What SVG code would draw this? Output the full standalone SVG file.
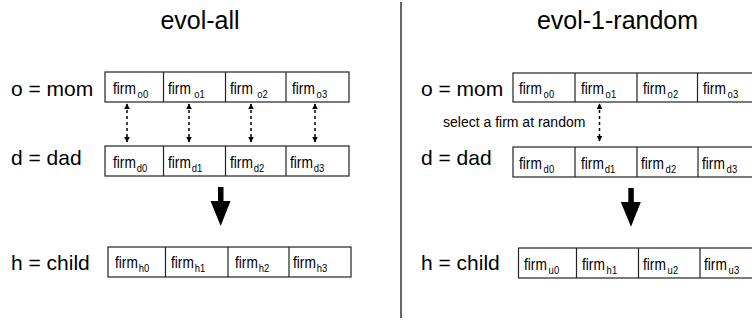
<svg xmlns="http://www.w3.org/2000/svg" width="752" height="320" viewBox="0 0 752 320">
<defs>
<style>
text{font-family:"Liberation Sans",Arial,sans-serif;fill:#000}
.title{font-size:25px;text-anchor:middle}
.lbl{font-size:21px}
.cell{font-size:16px}
.sub{font-size:11px}
.note{font-size:14px}
.box{fill:#fff;stroke:#222;stroke-width:1.2}
.div{stroke:#222;stroke-width:1.2}
.dash{stroke:#000;stroke-width:1.5;stroke-dasharray:3,3;fill:none;marker-start:url(#ah);marker-end:url(#ah)}
</style>
<marker id="ah" viewBox="0 0 10 10" refX="9" refY="5" markerWidth="6" markerHeight="6" markerUnits="userSpaceOnUse" orient="auto-start-reverse">
<path d="M0,0 L10,5 L0,10 z" fill="#000"/>
</marker>
</defs>

<line x1="401" y1="2" x2="401" y2="318" stroke="#333" stroke-width="1.5"/>

<text class="title" x="200" y="29">evol-all</text>
<text class="title" x="617.5" y="29">evol-1-random</text>

<g id="left-labels">
<text class="lbl" x="11" y="96">o = mom</text>
<text class="lbl" x="11" y="165">d = dad</text>
<text class="lbl" x="11" y="270">h = child</text>
</g>
<g id="right-labels">
<text class="lbl" x="421" y="96">o = mom</text>
<text class="lbl" x="421" y="165">d = dad</text>
<text class="lbl" x="421" y="270">h = child</text>
</g>

<g id="left-mom">
<rect class="box" x="105" y="72" width="244" height="30"/>
<line class="div" x1="163.5" y1="72" x2="163.5" y2="102"/>
<line class="div" x1="225.5" y1="72" x2="225.5" y2="102"/>
<line class="div" x1="286" y1="72" x2="286" y2="102"/>
<text class="cell" transform="translate(113,94) scale(0.86,1)">firm<tspan class="sub" dx="2" dy="4">o0</tspan></text>
<text class="cell" transform="translate(168,94) scale(0.86,1)">firm<tspan class="sub" dx="4" dy="4">o1</tspan></text>
<text class="cell" transform="translate(230,94) scale(0.86,1)">firm<tspan class="sub" dx="5" dy="4">o2</tspan></text>
<text class="cell" transform="translate(292,94) scale(0.86,1)">firm<tspan class="sub" dx="2" dy="4">o3</tspan></text>
</g>

<g id="left-dad">
<rect class="box" x="105" y="146" width="244" height="30"/>
<line class="div" x1="163.5" y1="146" x2="163.5" y2="176"/>
<line class="div" x1="225.5" y1="146" x2="225.5" y2="176"/>
<line class="div" x1="286" y1="146" x2="286" y2="176"/>
<text class="cell" transform="translate(113,168) scale(0.86,1)">firm<tspan class="sub" dx="1" dy="4">d0</tspan></text>
<text class="cell" transform="translate(168,168) scale(0.86,1)">firm<tspan class="sub" dx="1" dy="4">d1</tspan></text>
<text class="cell" transform="translate(230,168) scale(0.86,1)">firm<tspan class="sub" dx="1" dy="4">d2</tspan></text>
<text class="cell" transform="translate(290,168) scale(0.86,1)">firm<tspan class="sub" dx="1" dy="4">d3</tspan></text>
</g>

<g id="left-child">
<rect class="box" x="108" y="247" width="243" height="30"/>
<line class="div" x1="165.5" y1="247" x2="165.5" y2="277"/>
<line class="div" x1="228" y1="247" x2="228" y2="277"/>
<line class="div" x1="289" y1="247" x2="289" y2="277"/>
<text class="cell" transform="translate(115,268) scale(0.86,1)">firm<tspan class="sub" dx="1" dy="4">h0</tspan></text>
<text class="cell" transform="translate(171,268) scale(0.86,1)">firm<tspan class="sub" dx="1" dy="4">h1</tspan></text>
<text class="cell" transform="translate(235,268) scale(0.86,1)">firm<tspan class="sub" dx="1" dy="4">h2</tspan></text>
<text class="cell" transform="translate(293,268) scale(0.86,1)">firm<tspan class="sub" dx="1" dy="4">h3</tspan></text>
</g>

<g id="right-mom">
<rect class="box" x="513" y="73" width="260" height="29"/>
<line class="div" x1="575" y1="73" x2="575" y2="102"/>
<line class="div" x1="637" y1="73" x2="637" y2="102"/>
<line class="div" x1="697.5" y1="73" x2="697.5" y2="102"/>
<text class="cell" transform="translate(519,94) scale(0.86,1)">firm<tspan class="sub" dx="2" dy="4">o0</tspan></text>
<text class="cell" transform="translate(581,94) scale(0.86,1)">firm<tspan class="sub" dx="2" dy="4">o1</tspan></text>
<text class="cell" transform="translate(643,94) scale(0.86,1)">firm<tspan class="sub" dx="2" dy="4">o2</tspan></text>
<text class="cell" transform="translate(703,94) scale(0.86,1)">firm<tspan class="sub" dx="2" dy="4">o3</tspan></text>
</g>

<g id="right-dad">
<rect class="box" x="513" y="147" width="260" height="30"/>
<line class="div" x1="575" y1="147" x2="575" y2="177"/>
<line class="div" x1="637" y1="147" x2="637" y2="177"/>
<line class="div" x1="698" y1="147" x2="698" y2="177"/>
<text class="cell" transform="translate(519,169) scale(0.86,1)">firm<tspan class="sub" dx="2" dy="4">d0</tspan></text>
<text class="cell" transform="translate(581,169) scale(0.86,1)">firm<tspan class="sub" dx="1" dy="4">d1</tspan></text>
<text class="cell" transform="translate(641,169) scale(0.86,1)">firm<tspan class="sub" dx="2" dy="4">d2</tspan></text>
<text class="cell" transform="translate(702,169) scale(0.86,1)">firm<tspan class="sub" dx="2" dy="4">d3</tspan></text>
</g>

<g id="right-child">
<rect class="box" x="518.5" y="248" width="260" height="30"/>
<line class="div" x1="576.5" y1="248" x2="576.5" y2="278"/>
<line class="div" x1="638.5" y1="248" x2="638.5" y2="278"/>
<line class="div" x1="700" y1="248" x2="700" y2="278"/>
<text class="cell" transform="translate(524,270) scale(0.86,1)">firm<tspan class="sub" dx="2" dy="4">u0</tspan></text>
<text class="cell" transform="translate(582,270) scale(0.86,1)">firm<tspan class="sub" dx="2" dy="4">h1</tspan></text>
<text class="cell" transform="translate(643,270) scale(0.86,1)">firm<tspan class="sub" dx="2" dy="4">u2</tspan></text>
<text class="cell" transform="translate(704,270) scale(0.86,1)">firm<tspan class="sub" dx="2" dy="4">u3</tspan></text>
</g>

<g id="connectors">
<line class="dash" x1="127" y1="104" x2="127" y2="142"/>
<line class="dash" x1="189" y1="104" x2="189" y2="142"/>
<line class="dash" x1="251" y1="104" x2="251" y2="142"/>
<line class="dash" x1="315" y1="104" x2="315" y2="142"/>
<line class="dash" x1="599.5" y1="104" x2="599.5" y2="141"/>
<path d="M218,187 H223.5 V201 H230.5 L220.7,226 L210.5,201 H218 Z" fill="#000"/>
<path d="M628.3,188 H633.8 V202 H640.8 L631,226.7 L620.8,202 H628.3 Z" fill="#000"/>
</g>

<text class="note" x="443" y="127">select a firm at random</text>
</svg>
